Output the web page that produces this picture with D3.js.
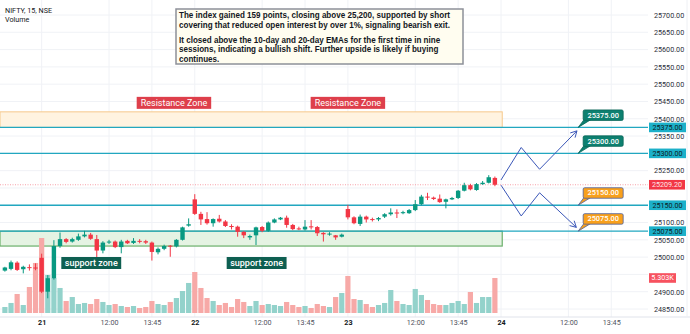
<!DOCTYPE html>
<html><head><meta charset="utf-8">
<script src="https://cdn.jsdelivr.net/npm/d3@7"></script>
<style>
html,body{margin:0;padding:0;background:#fff;}
svg{display:block;font-family:Roboto,"Noto Sans",sans-serif;}
</style></head><body>
<svg id="c" width="690" height="334"></svg>
<script>
// ---------- DATA ----------
const symbolTitle = "NIFTY, 15, NSE";
const volumeTitle = "Volume";
const days = ["20","21","22","23","24"];
const slotsPerDay = 25;            // 09:15 ... 15:15 (15-minute bars)
const firstDaySlots = 6;           // only the last 6 bars of the 20th are visible
const tickTimes = ["12:00","13:45"];

const open  = [24961,24966,24984,24965,24971,24970,
 24998,24900,24939,25032,25052,25045,25050,25060,25065,25052,25019,25043,25045,25029,25047,25041,25047,25046,25042,25014,25024,25033,25031,25050,25091,
 25167,25125,25110,25098,25111,25103,25090,25088,25073,25057,25063,25087,25076,25100,25109,25114,25093,25083,25080,25089,25087,25070,25066,25063,25059,
 25139,25115,25096,25117,25110,25109,25117,25124,25129,25127,25127,25136,25153,25175,25172,25169,25160,25167,25171,25192,25208,25194,25211,25215,25229];
const high  = [24972,24990,24988,24975,24979,24982,
 25010,24948,25049,25071,25055,25056,25068,25076,25070,25064,25046,25050,25048,25050,25050,25055,25052,25050,25045,25028,25036,25035,25052,25088,25112,
 25182,25131,25130,25112,25122,25107,25095,25091,25075,25065,25088,25090,25103,25112,25116,25120,25096,25088,25107,25107,25090,25072,25072,25064,25068,
 25151,25118,25123,25120,25114,25116,25127,25141,25138,25134,25139,25165,25180,25186,25175,25181,25169,25174,25194,25215,25212,25214,25220,25237,25233];
const low   = [24958,24962,24960,24953,24961,24962,
 24896,24881,24935,25027,25040,25042,25047,25057,25050,25000,25011,25038,25026,25011,25038,25038,25040,25038,24990,25008,25020,25001,25028,25048,25088,
 25122,25093,25094,25088,25100,25087,25080,25059,25055,25050,25035,25072,25073,25098,25107,25085,25078,25078,25077,25080,25061,25045,25062,25050,25057,
 25109,25095,25090,25100,25103,25104,25113,25120,25113,25124,25125,25133,25150,25165,25165,25157,25141,25165,25168,25190,25193,25192,25209,25213,25205];
const close = [24970,24985,24963,24972,24970,24967,
 24900,24939,25032,25052,25044,25052,25060,25065,25053,25019,25042,25045,25029,25045,25040,25047,25045,25042,25015,25024,25032,25031,25050,25086,25095,
 25125,25109,25098,25110,25103,25090,25087,25073,25063,25061,25086,25076,25100,25109,25114,25093,25081,25081,25088,25086,25069,25066,25068,25057,25065,
 25115,25098,25117,25109,25108,25113,25124,25129,25127,25130,25136,25153,25175,25172,25168,25159,25167,25171,25192,25208,25196,25211,25215,25231,25209.2];
const volume = [910,1520,2880,1210,3940,7580,
 11360,5760,5300,3790,1820,2420,1360,1520,1360,2120,1670,1210,1360,1060,910,1060,760,910,1820,1360,1210,1670,2270,3330,4550,
 6210,3790,2270,1820,1210,1520,910,2120,1670,1060,1820,1210,1360,1210,1060,1670,1210,910,1060,760,1360,1060,910,2420,3030,
 5610,2120,1970,1360,910,1210,1520,3480,1820,1360,1210,3640,2730,1970,1360,1210,1210,1520,1820,1360,3180,1520,2420,2420,5303];

const priceTicks = d3.range(24850, 25701, 50);
const levels = [25375, 25300, 25150, 25075];
const callouts = [
  {price:25375, text:"25375.00", kind:"up"},
  {price:25300, text:"25300.00", kind:"up"},
  {price:25150, text:"25150.00", kind:"down"},
  {price:25075, text:"25075.00", kind:"down"}];
const resistanceZone = [25375, 25420];
const supportZone = [25032, 25075];
const zoneEndIndex = 81.2;
const resistanceLabels = [{i:27.6, p:25446, text:"Resistance Zone"},{i:56.0, p:25446, text:"Resistance Zone"}];
const supportLabels = [{i:14.1, p:24983, text:"support zone"},{i:41.1, p:24983, text:"support zone"}];
const upPath   = [[81.0,25223],[84.3,25317],[87.3,25254],[93.4,25365]];
const downPath = [[81.0,25208],[84.3,25119],[87.3,25186],[93.3,25086]];
const calloutIndex = 93.6;
const noteLines = [
 "The index gained 159 points, closing above 25,200, supported by short",
 "covering that reduced open interest by over 1%, signaling bearish exit.",
 "",
 "It closed above the 10-day and 20-day EMAs for the first time in nine",
 "sessions, indicating a bullish shift. Further upside is likely if buying",
 "continues."];

// ---------- categories (bar time slots) ----------
const slotTimes = d3.range(slotsPerDay).map(k => {
  const m = 9*60 + 15 + 15*k;
  return String(Math.floor(m/60)).padStart(2,"0") + ":" + String(m%60).padStart(2,"0");
});
const cats = [];
days.forEach((d, di) => {
  const times = di === 0 ? slotTimes.slice(slotsPerDay - firstDaySlots) : slotTimes;
  times.forEach(t => cats.push({day:d, time:t}));
});

// ---------- LAYOUT ----------
const W = 690, H = 334;
const plotRight = 648, plotBottom = 317;
const svg = d3.select("#c");
const x = d3.scaleLinear().domain([-0.8, 105]).range([0, plotRight]);
const y = d3.scaleLinear().domain([24850, 25700]).range([309, 15]);
const base = 313;
const yV = d3.scaleLinear().domain([0, d3.max(volume)]).range([base, base - 75]);

const UP = "#089981", DN = "#f23645";
const UPV = "#93d2cb", DNV = "#f7a9a7";
const LEVEL = "#22a7c0";

// grid
const g = svg.append("g");
g.selectAll("line.h").data(priceTicks).join("line")
  .attr("x1",0).attr("x2",plotRight).attr("y1",d=>y(d)).attr("y2",d=>y(d))
  .attr("stroke","#f0f2f6").attr("stroke-width",1);
const tickIdx = cats.map((c,i)=>({c,i})).filter(o => o.c.time==="09:15" || tickTimes.includes(o.c.time));
g.selectAll("line.v").data(tickIdx).join("line")
  .attr("x1",d=>x(d.i)).attr("x2",d=>x(d.i)).attr("y1",0).attr("y2",plotBottom)
  .attr("stroke","#f0f2f6").attr("stroke-width",1);

// zones
svg.append("rect").attr("x",x(-0.8)).attr("width",x(zoneEndIndex)-x(-0.8))
  .attr("y",y(resistanceZone[1])).attr("height",y(resistanceZone[0])-y(resistanceZone[1]))
  .attr("fill","#fff3e0").attr("stroke","#f6c98b").attr("stroke-width",1);
svg.append("rect").attr("x",x(-0.8)).attr("width",x(zoneEndIndex)-x(-0.8))
  .attr("y",y(supportZone[1])).attr("height",y(supportZone[0])-y(supportZone[1]))
  .attr("fill","#e5f3e3").attr("stroke","#6aaf6a").attr("stroke-width",1.2);

// last price line
const last = close[close.length-1];
svg.append("line").attr("x1",0).attr("x2",plotRight).attr("y1",y(last)).attr("y2",y(last))
  .attr("stroke","#f7a1a8").attr("stroke-width",1).attr("stroke-dasharray","1,1.5");

// volume
const idx = d3.range(close.length);
svg.append("g").selectAll("rect").data(idx).join("rect")
  .attr("x",i=>x(i)-2.6).attr("width",5.2)
  .attr("y",i=>yV(volume[i])).attr("height",i=>base-yV(volume[i]))
  .attr("fill",i=>close[i]>=open[i]?UPV:DNV);

// level lines
svg.append("g").selectAll("line").data(levels).join("line")
  .attr("x1",0).attr("x2",plotRight).attr("y1",d=>y(d)).attr("y2",d=>y(d))
  .attr("stroke",LEVEL).attr("stroke-width",1.3);

// candles
const cg = svg.append("g");
cg.selectAll("line").data(idx).join("line")
  .attr("x1",i=>x(i)).attr("x2",i=>x(i)).attr("y1",i=>y(high[i])).attr("y2",i=>y(low[i]))
  .attr("stroke",i=>close[i]>=open[i]?UP:DN).attr("stroke-width",1);
cg.selectAll("rect").data(idx).join("rect")
  .attr("x",i=>x(i)-2.2).attr("width",4.4)
  .attr("y",i=>y(Math.max(open[i],close[i])))
  .attr("height",i=>Math.max(1,Math.abs(y(open[i])-y(close[i]))))
  .attr("fill",i=>close[i]>=open[i]?UP:DN);

// zone labels
function tag(list, fill, fs, padX, h, fw){
  list.forEach(d=>{
    const t = svg.append("text").attr("x",x(d.i)).attr("y",y(d.p)).attr("text-anchor","middle")
      .attr("dominant-baseline","central").attr("font-size",fs).attr("font-weight",fw).attr("fill","#fff").text(d.text);
    const w = t.node().getComputedTextLength();
    svg.insert("rect", () => t.node()).attr("x",x(d.i)-w/2-padX).attr("y",y(d.p)-h/2)
      .attr("width",w+2*padX).attr("height",h).attr("fill",fill);
  });
}
tag(resistanceLabels, "#de3f4b", 9, 4, 12, 400);
tag(supportLabels, "#0e5f51", 9, 3.5, 12, 500);

// zig-zag projections
const line = d3.line().x(d=>x(d[0])).y(d=>y(d[1]));
[upPath, downPath].forEach(p=>{
  svg.append("path").attr("d",line(p)).attr("fill","none").attr("stroke","#3b57b8").attr("stroke-width",1);
  const a = p[p.length-2], b = p[p.length-1];
  const x1=x(a[0]), y1=y(a[1]), x2=x(b[0]), y2=y(b[1]);
  const ang = Math.atan2(y2-y1, x2-x1);
  [-1,1].forEach(s=>{
    const aa = ang + Math.PI + s*0.5;
    svg.append("line").attr("x1",x2).attr("y1",y2).attr("x2",x2+7*Math.cos(aa)).attr("y2",y2+7*Math.sin(aa))
      .attr("stroke","#3b57b8").attr("stroke-width",1);
  });
});

// callouts
callouts.forEach(c=>{
  const tipX = x(calloutIndex), tipY = y(c.price);
  const bx = tipX + 5, bw = 40, bh = 10.5, by = tipY - 7 - bh;
  const fill = c.kind==="up" ? "#0d8070" : "#f8a01c";
  const stroke = c.kind==="up" ? "#096457" : "#4d5f9e";
  svg.append("path").attr("d",`M${bx+1},${by+bh-1} L${bx+8},${by+bh-1} L${tipX},${tipY} Z`)
    .attr("fill",fill).attr("stroke",stroke).attr("stroke-width",0.8);
  svg.append("rect").attr("x",bx).attr("y",by).attr("width",bw).attr("height",bh).attr("rx",1.5)
    .attr("fill",fill).attr("stroke",stroke).attr("stroke-width",0.8);
  svg.append("text").attr("x",bx+bw/2).attr("y",by+bh/2).attr("text-anchor","middle")
    .attr("dominant-baseline","central").attr("font-size",7.4).attr("font-weight",500).attr("fill","#fff").text(c.text);
});

// note box
const note = svg.append("g");
const nx = 176, ny = 9, nw = 287, nh = 55;
note.append("rect").attr("x",nx).attr("y",ny).attr("width",nw).attr("height",nh)
  .attr("fill","#fffdf0").attr("stroke","#8d9099").attr("stroke-width",1.5);
const lineYs = [15.2, 24.8, 0, 39.8, 49.4, 59];
const noteFont = 8.4;
const noteTexts = [];
noteLines.forEach((s,k)=>{
  if(!s) return;
  noteTexts.push(note.append("text").attr("x",nx+3).attr("y",lineYs[k]).attr("dominant-baseline","central")
    .attr("font-family","'Liberation Sans',Arial,sans-serif").attr("font-weight","bold")
    .attr("font-size",noteFont).attr("fill","#131722").text(s));
});
// compress horizontally so the first line spans the same width as in the original
const w0 = noteTexts[0].node().getComputedTextLength();
const squeeze = 271 / w0;
noteTexts.forEach(t => {
  const w = t.node().getComputedTextLength();
  t.attr("textLength", w * squeeze).attr("lengthAdjust","spacingAndGlyphs");
});

// axes frame
svg.append("line").attr("x1",0).attr("x2",W).attr("y1",plotBottom).attr("y2",plotBottom).attr("stroke","#e0e3eb");
svg.append("line").attr("x1",687).attr("x2",687).attr("y1",0).attr("y2",plotBottom).attr("stroke","#eef0f4");

// axis value tags
const lastVol = volume[volume.length-1];
const tags = levels.map(l => ({y:y(l), text:d3.format(".2f")(l), fill:"#1cb0c9", color:"#0c1a24", w:37}))
  .concat([{y:y(last), text:d3.format(".2f")(last), fill:"#f23645", color:"#ffe5e7", w:36},
           {y:yV(lastVol), text:d3.format(".4s")(lastVol).replace("k","K"), fill:"#f7525f", color:"#fff", w:27}]);

// price axis (ticks hidden behind a tag are left out)
const visTicks = priceTicks.filter(p => !tags.some(t => Math.abs(t.y - y(p)) < 4));
const pa = svg.append("g").attr("transform",`translate(${plotRight},0)`)
  .call(d3.axisRight(y).tickValues(visTicks).tickFormat(d3.format(".2f")).tickSize(0).tickPadding(6));
pa.select(".domain").remove();
pa.selectAll("text").attr("font-size",7.2).attr("fill","#2a2e39").attr("font-family","Roboto,sans-serif");

tags.forEach(t=>{
  svg.append("rect").attr("x",plotRight+1).attr("y",t.y-4.8).attr("width",t.w).attr("height",9.6).attr("fill",t.fill);
  svg.append("text").attr("x",plotRight+1+t.w/2).attr("y",t.y).attr("text-anchor","middle").attr("dominant-baseline","central")
    .attr("font-size",7.2).attr("fill",t.color).text(t.text);
});

// time axis
const ta = svg.append("g").attr("transform",`translate(0,${plotBottom})`)
  .call(d3.axisBottom(x).tickValues(tickIdx.map(o=>o.i))
    .tickFormat(i => cats[i].time==="09:15" ? cats[i].day : cats[i].time).tickSize(0).tickPadding(3));
ta.select(".domain").remove();
ta.selectAll("text").attr("font-size",7.2).attr("font-family","Roboto,sans-serif")
  .attr("fill",i => cats[i].time==="09:15" ? "#131722" : "#50535e")
  .attr("font-weight",i => cats[i].time==="09:15" ? 700 : 400);

// title
svg.append("text").attr("x",5).attr("y",10).attr("dominant-baseline","central").attr("font-size",7.2).attr("fill","#131722").text(symbolTitle);
svg.append("text").attr("x",5).attr("y",19).attr("dominant-baseline","central").attr("font-size",7.2).attr("fill","#131722").text(volumeTitle);
</script></body></html>
